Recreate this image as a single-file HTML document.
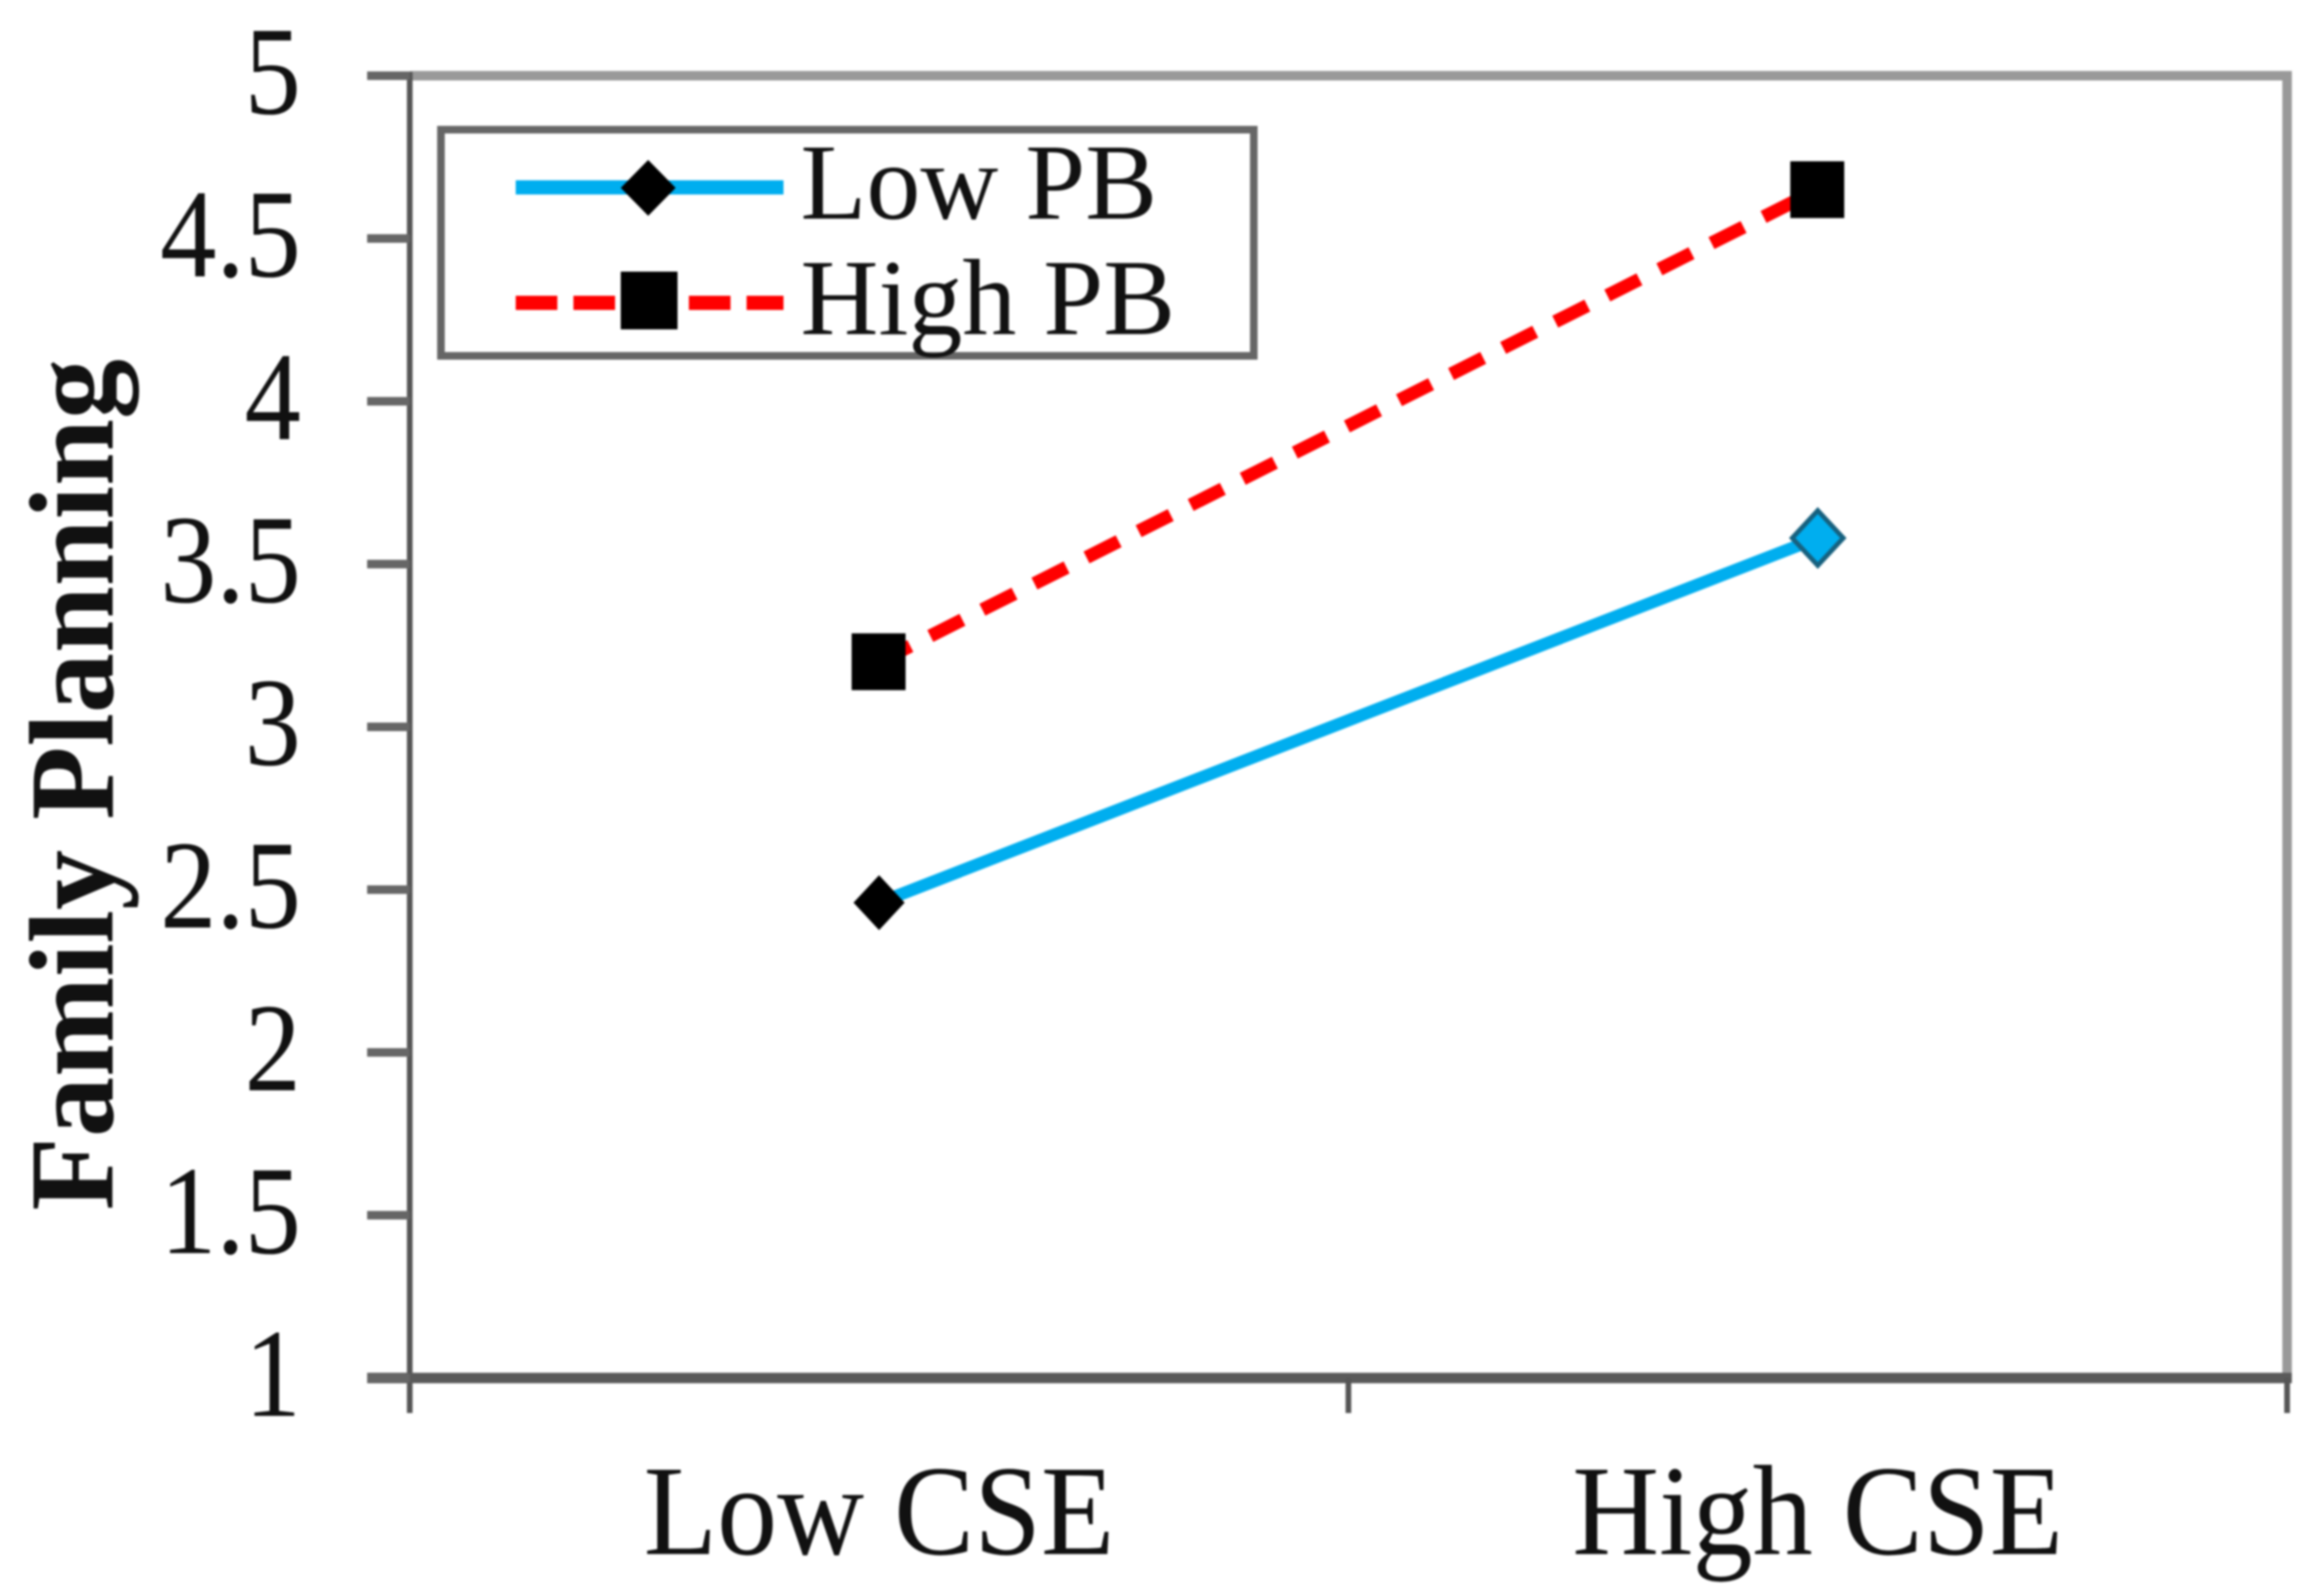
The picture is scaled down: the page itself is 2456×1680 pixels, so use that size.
<!DOCTYPE html>
<html lang="en">
<head>
<meta charset="utf-8">
<title>Family Planning by CSE and PB</title>
<style>
  html, body { margin: 0; padding: 0; background: #fff; }
  #chart { display: block; width: 2456px; height: 1680px; filter: blur(1.1px); }
  text { font-family: "Liberation Serif", serif; fill: #111; }
</style>
</head>
<body>
<svg id="chart" xmlns="http://www.w3.org/2000/svg" width="2456" height="1680" viewBox="0 0 2456 1680">
  <rect x="0" y="0" width="2456" height="1680" fill="#fff"/>
  <g id="axes"></g>
  <g id="series"></g>
  <text transform="translate(119,1279) rotate(-90)" font-size="127" font-weight="bold" fill="#000">Family Planning</text>
  <g>
    <rect x="466" y="137" width="859" height="239" fill="#fff" stroke="#666" stroke-width="8"/>
    <g>
      <line x1="545" y1="198" x2="828" y2="198" stroke="#00aeef" stroke-width="15"/>
      <polygon points="685,169 714,198.500 685,228 656,198.500" fill="#000"/>
      <text x="846" y="231" font-size="114">Low PB</text>
    </g>
    <g>
      <line x1="545" y1="320" x2="828" y2="320" stroke="#ff0000" stroke-width="15" stroke-dasharray="44 17"/>
      <rect x="656" y="287" width="60" height="61" fill="#000"/>
      <text x="846" y="353" font-size="114">High PB</text>
    </g>
  </g>
</svg>
<script>
const categories = ["Low CSE", "High CSE"];
const lowPB = [2.46, 3.58];
const highPB = [3.2, 4.65];
const yTickValues = [1, 1.5, 2, 2.5, 3, 3.5, 4, 4.5, 5];
const yTickLabels = ["1", "1.5", "2", "2.5", "3", "3.5", "4", "4.5", "5"];

const NS = "http://www.w3.org/2000/svg";
const plot = { left: 433, right: 2417, top: 80, bottom: 1456 };
const yMin = 1;
const yMax = 5;

function xBandEdge(i) {
  return plot.left + (plot.right - plot.left) * i / categories.length;
}
function xScale(i) {
  return plot.left + (plot.right - plot.left) * (i + 0.5) / categories.length;
}
function yScale(v) {
  return plot.bottom - (plot.bottom - plot.top) * (v - yMin) / (yMax - yMin);
}
function make(tag, attrs, parent) {
  const el = document.createElementNS(NS, tag);
  for (const k in attrs) el.setAttribute(k, attrs[k]);
  parent.appendChild(el);
  return el;
}

const axes = document.getElementById("axes");
const series = document.getElementById("series");

// Plot frame
const frameTop = make("line", { x1: plot.left, y1: plot.top, x2: plot.right + 5, y2: plot.top, stroke: "#999", "stroke-width": 10 }, axes);


const frameRight = make("line", { x1: plot.right, y1: plot.top, x2: plot.right, y2: plot.bottom, stroke: "#999", "stroke-width": 10 }, axes);


const yAxisLine = make("line", { x1: plot.left, y1: plot.top - 4, x2: plot.left, y2: plot.bottom + 37, stroke: "#555", "stroke-width": 6 }, axes);


const xAxisLine = make("line", { x1: plot.left - 45, y1: plot.bottom, x2: plot.right + 5, y2: plot.bottom, stroke: "#5a5a5a", "stroke-width": 11 }, axes);



// Y ticks and labels
yTickValues.forEach(function (v, i) {
  const y = yScale(v);
  const tick = make("line", { x1: plot.left - 45, y1: y, x2: plot.left, y2: y, stroke: "#666", "stroke-width": 9 }, axes);
  
  
  const label = make("text", { transform: "translate(318," + (y + 40) + ") scale(1,1.12)", "text-anchor": "end", "font-size": 119 }, axes);
  label.textContent = yTickLabels[i];
  
  
});

// X ticks and labels
for (let i = 1; i <= categories.length; i++) {
  const x = xBandEdge(i);
  const tick = make("line", { x1: x, y1: plot.bottom, x2: x, y2: plot.bottom + 37, stroke: "#555", "stroke-width": 6 }, axes);
  
  
}
categories.forEach(function (c, i) {
  const label = make("text", { transform: "translate(" + xScale(i) + ",1642) scale(1,1.07)", "text-anchor": "middle", "font-size": 127 }, axes);
  label.textContent = c;
  
  
});

// Series lines
function linePoints(values) {
  return values.map(function (v, i) { return xScale(i) + "," + yScale(v); }).join(" ");
}
const lowLine = make("polyline", { points: linePoints(lowPB), fill: "none", stroke: "#00aeef", "stroke-width": 13 }, series);


const highLine = make("polyline", { points: linePoints(highPB), fill: "none", stroke: "#ff0000", "stroke-width": 14, "stroke-dasharray": "38 23.6", "stroke-dashoffset": 1 }, series);



// Series markers
lowPB.forEach(function (v, i) {
  const x = xScale(i), y = yScale(v);
  const pts = [[x, y - 29], [x + 27, y], [x, y + 29], [x - 27, y]].map(function (p) { return p.join(","); }).join(" ");
  const marker = make("polygon", { points: pts, fill: i === 0 ? "#000" : "#00aeef", stroke: i === 0 ? "#000" : "#17617f", "stroke-width": i === 0 ? 0 : 5 }, series);
  
  
});
highPB.forEach(function (v, i) {
  const x = xScale(i), y = yScale(v);
  const marker = make("rect", { x: x - 29, y: y - 30, width: 57, height: 60, fill: "#000" }, series);
  
  
});
</script>
</body>
</html>
